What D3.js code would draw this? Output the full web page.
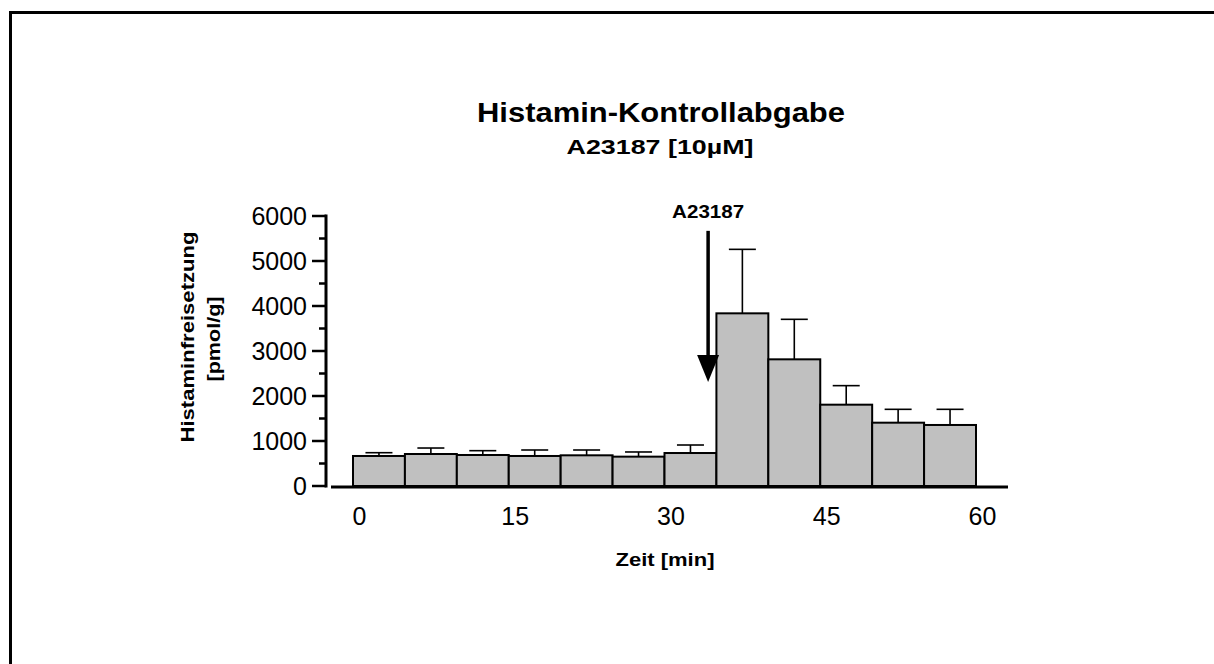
<!DOCTYPE html>
<html><head><meta charset="utf-8">
<script src="https://cdn.jsdelivr.net/npm/d3@7"></script>
<style>html,body{margin:0;padding:0;background:#fff;}svg{display:block;}</style>
</head><body>
<svg id="c" width="1214" height="664"></svg>
<script>
// Data
const intervalStart = [0, 5, 10, 15, 20, 25, 30, 35, 40, 45, 50, 55];
const meanValues    = [667, 711, 689, 667, 682, 652, 733, 3837, 2815, 1807, 1407, 1356];
const errorValues   = [73, 133, 96, 133, 118, 104, 178, 1422, 889, 423, 297, 348];
const xTickValues   = [0, 15, 30, 45, 60];
const yTickValues   = [0, 1000, 2000, 3000, 4000, 5000, 6000];
const yMinorValues  = [500, 1500, 2500, 3500, 4500, 5500];
const binWidth = 5;
const arrowTime = 34.2, arrowFrom = 5670, arrowTo = 2310;

const titleText = "Histamin-Kontrollabgabe";
const subtitleText = "A23187 [10µM]";
const xLabel = "Zeit [min]";
const yLabel1 = "Histaminfreisetzung";
const yLabel2 = "[pmol/g]";
const arrowLabel = "A23187";

const svg = d3.select("#c");
const font = "Liberation Sans, Arial, Helvetica, sans-serif";

// frame
svg.append("path").attr("d", "M10.5,664 L10.5,12.5 L1214,12.5")
  .attr("fill", "none").attr("stroke", "#000").attr("stroke-width", 3);

const x = d3.scaleLinear().domain([0, 60]).range([353, 976]);
const y = d3.scaleLinear().domain([0, 6000]).range([486, 216]);

// bars
const data = intervalStart.map((t, i) => ({t, m: meanValues[i], e: errorValues[i]}));
const g = svg.append("g");
data.forEach(d => {
  const cx = x(d.t + binWidth / 2);
  g.append("line").attr("x1", cx).attr("x2", cx).attr("y1", y(d.m)).attr("y2", y(d.m + d.e))
    .attr("stroke", "#000").attr("stroke-width", 1.6);
  g.append("line").attr("x1", cx - 13.5).attr("x2", cx + 13.5).attr("y1", y(d.m + d.e)).attr("y2", y(d.m + d.e))
    .attr("stroke", "#000").attr("stroke-width", 1.6);
});
g.selectAll("rect.bar").data(data).enter().append("rect").attr("class", "bar")
  .attr("x", d => x(d.t)).attr("width", d => x(d.t + binWidth) - x(d.t))
  .attr("y", d => y(d.m)).attr("height", d => y(0) - y(d.m))
  .attr("fill", "#c0c0c0").attr("stroke", "#000").attr("stroke-width", 2);

// y axis
const yAxisX = 326;
svg.append("line").attr("x1", yAxisX).attr("x2", yAxisX).attr("y1", y(6000) - 1.5).attr("y2", y(0) + 1.5)
  .attr("stroke", "#000").attr("stroke-width", 3);
yTickValues.forEach(v => {
  svg.append("line").attr("x1", yAxisX - 14).attr("x2", yAxisX).attr("y1", y(v)).attr("y2", y(v))
    .attr("stroke", "#000").attr("stroke-width", 2.5);
  svg.append("text").attr("x", yAxisX - 19).attr("y", y(v) + 9).attr("text-anchor", "end")
    .attr("font-family", font).attr("font-size", 25).text(v);
});
yMinorValues.forEach(v => {
  svg.append("line").attr("x1", yAxisX - 7).attr("x2", yAxisX).attr("y1", y(v)).attr("y2", y(v))
    .attr("stroke", "#000").attr("stroke-width", 2.5);
});

// x axis
svg.append("line").attr("x1", 331).attr("x2", 1008).attr("y1", y(0) + 1).attr("y2", y(0) + 1)
  .attr("stroke", "#000").attr("stroke-width", 3);
xTickValues.forEach(v => {
  svg.append("text").attr("x", x(v) + 6.5).attr("y", 525).attr("text-anchor", "middle")
    .attr("font-family", font).attr("font-size", 25).text(v);
});

// arrow
const ax = x(arrowTime);
svg.append("line").attr("x1", ax).attr("x2", ax).attr("y1", y(arrowFrom)).attr("y2", y(arrowTo) - 20)
  .attr("stroke", "#000").attr("stroke-width", 3.5);
svg.append("path").attr("d", `M${ax - 11},${y(arrowTo) - 27} L${ax + 11},${y(arrowTo) - 27} L${ax},${y(arrowTo)} Z`)
  .attr("fill", "#000");
svg.append("text").attr("x", ax).attr("y", 218).attr("text-anchor", "middle")
  .attr("font-family", font).attr("font-weight", "bold").attr("font-size", 18)
  .attr("textLength", 72).attr("lengthAdjust", "spacingAndGlyphs").text(arrowLabel);

// titles
svg.append("text").attr("x", 661).attr("y", 122).attr("text-anchor", "middle")
  .attr("font-family", font).attr("font-weight", "bold").attr("font-size", 27)
  .attr("textLength", 368).attr("lengthAdjust", "spacingAndGlyphs").text(titleText);
svg.append("text").attr("x", 660).attr("y", 154).attr("text-anchor", "middle")
  .attr("font-family", font).attr("font-weight", "bold").attr("font-size", 21)
  .attr("textLength", 187).attr("lengthAdjust", "spacingAndGlyphs").text(subtitleText);

// x label
svg.append("text").attr("x", 665).attr("y", 566).attr("text-anchor", "middle")
  .attr("font-family", font).attr("font-weight", "bold").attr("font-size", 19)
  .attr("textLength", 99).attr("lengthAdjust", "spacingAndGlyphs").text(xLabel);

// y label
svg.append("text").attr("transform", "translate(194,337) rotate(-90)").attr("text-anchor", "middle")
  .attr("font-family", font).attr("font-weight", "bold").attr("font-size", 19)
  .attr("textLength", 211).attr("lengthAdjust", "spacingAndGlyphs").text(yLabel1);
svg.append("text").attr("transform", "translate(220,339) rotate(-90)").attr("text-anchor", "middle")
  .attr("font-family", font).attr("font-weight", "bold").attr("font-size", 19)
  .attr("textLength", 85).attr("lengthAdjust", "spacingAndGlyphs").text(yLabel2);
</script>
</body></html>
